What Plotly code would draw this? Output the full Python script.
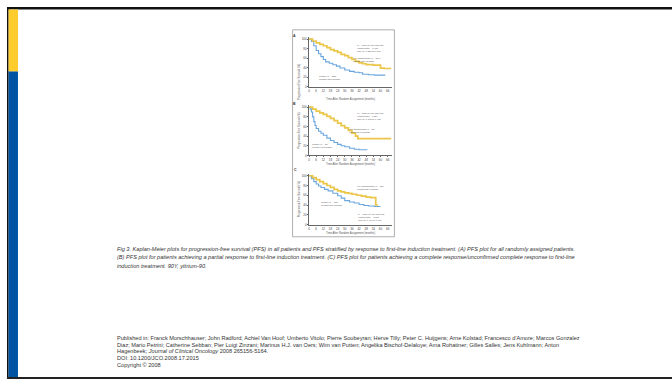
import plotly.graph_objects as go

W, H = 672, 381

# ---------------- data ----------------
# Panel A: all patients
a_y90_months = [0, 3, 6, 9, 12, 15, 18, 21, 24, 27, 30, 33, 36, 39, 42, 45, 48, 51, 54, 57, 60, 63, 66, 69]
a_y90_pfs = [100, 96, 92, 89, 86, 82, 78, 75, 72, 68, 65, 61, 57, 53, 50, 48, 46, 46, 45, 45, 39, 38, 38, 38]
a_ctl_months = [0, 2, 4, 6, 8, 10, 12, 14, 17, 20, 23, 26, 30, 34, 38, 42, 45, 50, 55, 60, 64]
a_ctl_pfs = [100, 95, 86, 76, 69, 63, 57, 52, 49, 46, 43, 39, 35, 32, 30, 29, 26, 25, 24, 24, 24]

# Panel B: partial response
b_y90_months = [0, 3, 6, 9, 12, 15, 18, 21, 24, 27, 30, 33, 36, 39, 41, 45, 50, 55, 60, 65, 69]
b_y90_pfs = [100, 96, 92, 88, 85, 81, 77, 72, 67, 62, 57, 52, 46, 40, 35, 35, 35, 35, 35, 35, 35]
b_ctl_months = [0, 1, 2, 3, 4, 5, 6, 8, 10, 12, 15, 18, 21, 24, 27, 30, 34, 38, 42, 46, 49]
b_ctl_pfs = [100, 96, 90, 80, 70, 62, 56, 50, 46, 42, 36, 31, 27, 23, 20, 18, 15, 13, 12, 12, 12]

# Panel C: complete response / unconfirmed complete response
c_y90_months = [0, 3, 6, 9, 12, 15, 18, 21, 24, 27, 30, 33, 36, 40, 44, 48, 52, 56, 58]
c_y90_pfs = [100, 96, 92, 88, 84, 80, 76, 72, 69, 67, 65, 64, 62, 60, 58, 56, 55, 40, 40]
c_ctl_months = [0, 2, 4, 6, 8, 10, 13, 16, 20, 24, 27, 30, 34, 38, 42, 46, 50, 55, 60]
c_ctl_pfs = [100, 94, 88, 83, 79, 76, 72, 69, 64, 59, 54, 49, 46, 44, 41, 39, 38, 37, 37]

x_ticks = [0, 6, 12, 18, 24, 30, 36, 42, 48, 54, 60, 66]
y_ticks = [0, 20, 40, 60, 80, 100]

panel_letters = ["A", "B", "C"]
y_title = "Progression-Free Survival (%)"
x_title = "Time After Random Assignment (months)"

a_labels = ["P < .0001 by log-rank test<br>Hazard ratio = 0.465<br>95% CI, 0.357 to 0.605",
            "90Y-ibritumomab (n = 207)<br>Median 36.5 months",
            "Control (n = 202)<br>Median 13.3 months"]
b_labels = ["P < .0001 by log-rank test<br>Hazard ratio = 0.304<br>95% CI, 0.195 to 0.473",
            "90Y-ibritumomab (n = 86)<br>Median 29.3 months",
            "Control (n = 86)<br>Median 6.2 months"]
c_labels = ["P = .0154 by log-rank test<br>Hazard ratio = 0.613<br>95% CI, 0.410 to 0.916",
            "90Y-ibritumomab (n = 111)<br>Median 53.9 months",
            "Control (n = 106)<br>Median 29.5 months"]

caption_lines = [
    "Fig 3. Kaplan-Meier plots for progression-free survival (PFS) in all patients and PFS stratified by response to first-line induction treatment. (A) PFS plot for all randomly assigned patients.",
    "(B) PFS plot for patients achieving a partial response to first-line induction treatment. (C) PFS plot for patients achieving a complete response/unconfirmed complete response to first-line",
    "induction treatment. 90Y, yttrium-90.",
]
pub_lines = [
    "Published in: Franck Morschhauser; John Radford; Achiel Van Hoof; Umberto Vitolo; Pierre Soubeyran; Herve Tilly; Peter C. Huijgens; Arne Kolstad; Francesco d'Amore; Marcos Gonzalez",
    "Diaz; Mario Petrini; Catherine Sebban; Pier Luigi Zinzani; Marinus H.J. van Oers; Wim van Putten; Angelika Bischof-Delaloye; Ama Rohatiner; Gilles Salles; Jens Kuhlmann; Anton",
    "Hagenbeek; <i>Journal of Clinical Oncology</i> 2008 265156-5164.",
    "DOI: 10.1200/JCO.2008.17.2015",
    "Copyright © 2008",
]

# ---------------- helpers ----------------
def px(x):
    return x / W

def py(y):
    return 1 - y / H

YEL = "#EBC648"
BLU = "#6AA6DE"
AX = "#666666"
FONT = "Liberation Sans, Arial, sans-serif"

fig = go.Figure()

panels = [
    (a_y90_months, a_y90_pfs, a_ctl_months, a_ctl_pfs, a_labels, (87.0, 37.4)),
    (b_y90_months, b_y90_pfs, b_ctl_months, b_ctl_pfs, b_labels, (156.3, 105.8)),
    (c_y90_months, c_y90_pfs, c_ctl_months, c_ctl_pfs, c_labels, (225.7, 174.7)),
]

x_dom = [px(308.5), px(392.0)]
layout_axes = {}
annotations = []
shapes = []

label_pos = [
    [(370, 42.5), (366.5, 55.0), (329, 73.0)],
    [(370, 110.5), (362, 126.5), (321, 146.5)],
    [(371, 218.5), (370, 188.5), (331, 205.0)],
]
letter_pos = [(293.8, 32.5), (293.8, 101.0), (294.8, 171.0)]

for i, (ym, yp, cm, cp, labels, (ybot, ytop)) in enumerate(panels):
    n = "" if i == 0 else str(i + 1)
    xa, ya = "x" + n, "y" + n
    fig.add_trace(go.Scatter(x=cm, y=cp, mode="lines", line=dict(color=BLU, width=1.1, shape="hv"),
                             xaxis=xa, yaxis=ya, showlegend=False, hoverinfo="skip"))
    fig.add_trace(go.Scatter(x=ym, y=yp, mode="lines", line=dict(color=YEL, width=1.7, shape="hv"),
                             xaxis=xa, yaxis=ya, showlegend=False, hoverinfo="skip"))
    layout_axes["xaxis" + n] = dict(domain=x_dom, range=[0, 70], anchor=ya, showgrid=False, zeroline=False,
                                    showline=True, linecolor=AX, linewidth=0.6, tickvals=x_ticks,
                                    ticks="outside", ticklen=1, tickwidth=0.5, tickcolor=AX,
                                    tickfont=dict(size=3, color="#444", family=FONT))
    layout_axes["yaxis" + n] = dict(domain=[py(ybot), py(ytop)], range=[0, 104], anchor=xa, showgrid=False,
                                    zeroline=False, showline=True, linecolor=AX, linewidth=0.6,
                                    tickvals=y_ticks, ticks="outside", ticklen=1, tickwidth=0.5,
                                    tickcolor=AX, tickfont=dict(size=3, color="#444", family=FONT))
    for (lx, ly), txt in zip(label_pos[i], labels):
        annotations.append(dict(x=px(lx), y=py(ly), xref="paper", yref="paper", text=txt, showarrow=False,
                                font=dict(size=2.3, color="#555", family=FONT), align="left"))
    lx, ly = letter_pos[i]
    annotations.append(dict(x=px(lx), y=py(ly), xref="paper", yref="paper", text="<b>%s</b>" % panel_letters[i],
                            showarrow=False, font=dict(size=3.5, color="#333", family=FONT)))
    annotations.append(dict(x=px(298.5), y=py((ybot + ytop) / 2), xref="paper", yref="paper", text=y_title,
                            textangle=-90, showarrow=False, font=dict(size=2.7, color="#555", family=FONT)))
    annotations.append(dict(x=px(350), y=py(ybot + 9), xref="paper", yref="paper", text=x_title,
                            showarrow=False, font=dict(size=2.7, color="#555", family=FONT)))

cap_y = [250, 258.5, 267.5]
for t, yy in zip(caption_lines, cap_y):
    annotations.append(dict(x=px(114), y=py(yy), xref="paper", yref="paper", text="<i>%s</i>" % t,
                            xanchor="left", yanchor="middle", showarrow=False,
                            font=dict(size=5.6, color="#333", family=FONT)))
pub_y = [339.5, 346.5, 353, 359.5, 366.5]
for t, yy in zip(pub_lines, pub_y):
    annotations.append(dict(x=px(114), y=py(yy), xref="paper", yref="paper", text=t,
                            xanchor="left", yanchor="middle", showarrow=False,
                            font=dict(size=5.6, color="#333", family=FONT)))

def rect(x0, y0, x1, y1, fill, line=None, lw=0):
    return dict(type="rect", xref="paper", yref="paper", x0=px(x0), x1=px(x1), y0=py(y1), y1=py(y0),
                fillcolor=fill, line=dict(color=line or fill, width=lw), layer="below")

shapes.append(rect(292, 30, 394, 238, "white", "#9a9a9a", 0.8))
shapes.append(rect(6, 7, 672, 9.5, "#111111"))
shapes.append(rect(6, 7, 7.6, 381, "#111111"))
shapes.append(rect(7.6, 9.5, 17, 72, "#FFCC2E"))
shapes.append(rect(7.6, 72, 17, 381, "#0054A4"))
shapes.append(rect(6, 379, 672, 381, "#222222"))

fig.update_layout(width=W, height=H, margin=dict(l=0, r=0, t=0, b=0), paper_bgcolor="white",
                  plot_bgcolor="rgba(0,0,0,0)", annotations=annotations, shapes=shapes, **layout_axes)

fig.write_html("out.html")
